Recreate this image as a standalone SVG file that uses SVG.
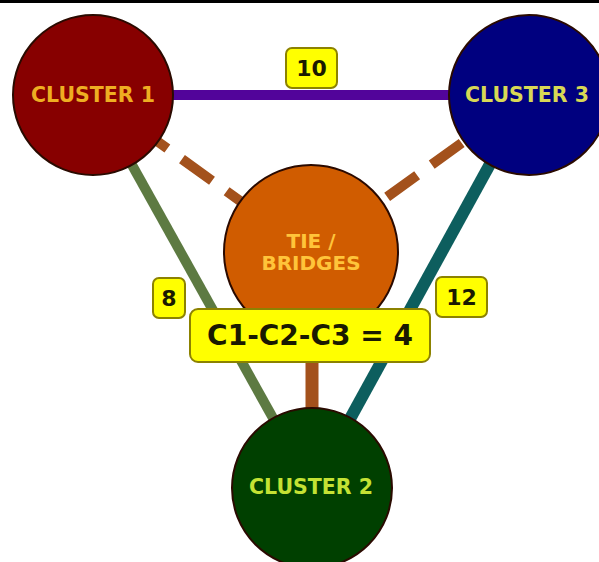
<svg xmlns="http://www.w3.org/2000/svg" width="599" height="562" viewBox="0 0 599 562">
<style>
.node{stroke:#2a0a00;stroke-width:2}
.lbl{font-family:"DejaVu Sans","Liberation Sans",sans-serif;font-weight:bold;text-anchor:middle;dominant-baseline:central}
.box{fill:#ffff00;stroke:#8c8200;stroke-width:2}
.btxt{font-family:"DejaVu Sans","Liberation Sans",sans-serif;font-weight:bold;text-anchor:middle;dominant-baseline:central;fill:#1a1a00}
</style>
<rect x="0" y="0" width="599" height="562" fill="#ffffff"/>
<rect x="0" y="0" width="599" height="3" fill="#000000"/>
<g id="connectors" fill="none">
  <line x1="93" y1="95" x2="528" y2="95" stroke="#52049a" stroke-width="10"/>
  <line x1="93" y1="95" x2="312" y2="488" stroke="#5d7a42" stroke-width="10"/>
  <line x1="528" y1="95" x2="312" y2="488" stroke="#0d5e5e" stroke-width="12"/>
  <line x1="311" y1="252" x2="93" y2="95" stroke="#a3511c" stroke-width="10" stroke-dasharray="37 18" stroke-dashoffset="-12"/>
  <line x1="311" y1="252" x2="528" y2="95" stroke="#a3511c" stroke-width="10" stroke-dasharray="37 18" stroke-dashoffset="-39"/>
  <line x1="312" y1="252" x2="312" y2="488" stroke="#a3511c" stroke-width="13"/>
</g>
<g id="cluster1">
  <circle class="node" cx="93" cy="95" r="80" fill="#870000"/>
  <text class="lbl" x="93" y="95" font-size="20.5" fill="#eeae22">CLUSTER 1</text>
</g>
<g id="cluster3">
  <circle class="node" cx="529" cy="95" r="80" fill="#00007f" stroke="#000030"/>
  <text class="lbl" x="527" y="95" font-size="20.5" fill="#d8d855">CLUSTER 3</text>
</g>
<g id="tie">
  <circle class="node" cx="311" cy="252" r="87" fill="#d05c00"/>
  <text class="lbl" x="311" y="241" font-size="20" fill="#ffc43a">TIE /</text>
  <text class="lbl" x="311" y="263" font-size="20" fill="#ffc43a">BRIDGES</text>
</g>
<g id="cluster2">
  <circle class="node" cx="312" cy="488" r="80" fill="#004000" stroke="#001800"/>
  <text class="lbl" x="311" y="487" font-size="20.5" fill="#c4e234">CLUSTER 2</text>
</g>
<g id="label-10">
  <rect class="box" x="286" y="48" width="51" height="40" rx="6"/>
  <text class="btxt" x="311.5" y="68" font-size="22">10</text>
</g>
<g id="label-8">
  <rect class="box" x="153" y="278" width="32" height="40" rx="6"/>
  <text class="btxt" x="169" y="298" font-size="22">8</text>
</g>
<g id="label-12">
  <rect class="box" x="436" y="277" width="51" height="40" rx="6"/>
  <text class="btxt" x="461.5" y="297" font-size="22">12</text>
</g>
<g id="label-c1c2c3">
  <rect class="box" x="190" y="309" width="240" height="53" rx="8"/>
  <text class="btxt" x="310" y="335" font-size="28">C1-C2-C3 = 4</text>
</g>
</svg>
